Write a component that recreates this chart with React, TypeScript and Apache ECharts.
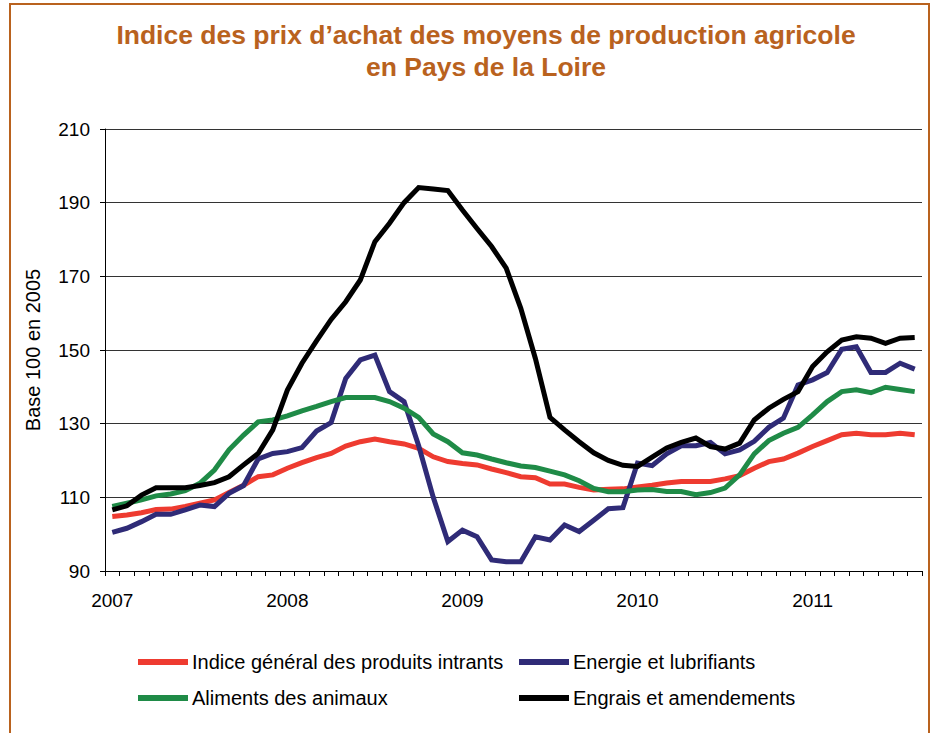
import React, { useEffect, useRef } from "react";
import * as echarts from "echarts";

const months = [
  "2007-01","2007-02","2007-03","2007-04","2007-05","2007-06","2007-07","2007-08","2007-09","2007-10","2007-11","2007-12",
  "2008-01","2008-02","2008-03","2008-04","2008-05","2008-06","2008-07","2008-08","2008-09","2008-10","2008-11","2008-12",
  "2009-01","2009-02","2009-03","2009-04","2009-05","2009-06","2009-07","2009-08","2009-09","2009-10","2009-11","2009-12",
  "2010-01","2010-02","2010-03","2010-04","2010-05","2010-06","2010-07","2010-08","2010-09","2010-10","2010-11","2010-12",
  "2011-01","2011-02","2011-03","2011-04","2011-05","2011-06","2011-07","2011-08",
];

const seriesNames = [
  "Indice général des produits intrants",
  "Energie et lubrifiants",
  "Aliments des animaux",
  "Engrais et amendements",
];

const indiceGeneral = [
  104.8, 105.2, 105.8, 106.7, 106.8, 107.5, 108.4, 109.3, 111.3, 113.3, 115.6, 116.1,
  117.9, 119.4, 120.8, 121.9, 123.9, 125.1, 125.8, 125.1, 124.5, 123.3, 121.0, 119.7,
  119.2, 118.8, 117.7, 116.7, 115.6, 115.3, 113.6, 113.6, 112.7, 112.0, 112.2, 112.3,
  112.8, 113.3, 113.9, 114.3, 114.3, 114.3, 115.0, 115.9, 117.9, 119.7, 120.4, 122.0,
  123.8, 125.4, 127.0, 127.4, 127.0, 127.0, 127.4, 127.0,
];

const energie = [
  100.5, 101.6, 103.4, 105.4, 105.4, 106.6, 107.9, 107.5, 111.1, 113.2, 120.4, 121.9,
  122.4, 123.5, 128.0, 130.3, 142.3, 147.3, 148.6, 138.7, 136.0, 124.0, 110.0, 98.0,
  101.1, 99.3, 93.0, 92.5, 92.5, 99.3, 98.4, 102.5, 100.7, 103.8, 106.9, 107.2,
  119.3, 118.6, 121.8, 124.0, 124.0, 124.9, 121.8, 122.9, 125.2, 129.0, 131.5, 140.5,
  141.9, 143.9, 150.2, 150.9, 143.9, 143.9, 146.4, 144.8,
];

const aliments = [
  107.5, 108.4, 109.3, 110.4, 110.9, 111.8, 113.8, 117.4, 122.9, 126.9, 130.5, 131.0,
  132.1, 133.5, 134.7, 136.0, 137.1, 137.1, 137.1, 136.0, 134.2, 131.7, 127.2, 125.1,
  122.1, 121.5, 120.4, 119.4, 118.5, 118.1, 117.1, 116.1, 114.5, 112.4, 111.5, 111.5,
  112.0, 112.1, 111.6, 111.6, 110.7, 111.3, 112.5, 116.1, 121.8, 125.4, 127.4, 129.0,
  132.4, 136.0, 138.7, 139.2, 138.4, 139.9, 139.3, 138.7,
];

const engrais = [
  106.6, 107.7, 110.6, 112.6, 112.6, 112.6, 113.2, 114.0, 115.6, 118.8, 121.9, 128.3,
  139.1, 146.4, 152.5, 158.3, 163.1, 169.0, 179.4, 184.4, 190.0, 194.1, 193.7, 193.3,
  188.0, 183.0, 178.1, 172.2, 161.3, 147.7, 131.7, 128.3, 125.1, 122.1, 120.0, 118.7,
  118.4, 120.9, 123.4, 124.9, 126.1, 123.8, 123.1, 124.7, 131.0, 134.2, 136.6, 138.7,
  145.5, 149.5, 152.7, 153.6, 153.2, 151.8, 153.2, 153.4,
];

const colors = ["#EE3B30", "#2F2B77", "#1F8B47", "#000000"];
const titleLines = [
  "Indice des prix d’achat des moyens de production agricole",
  "en Pays de la Loire",
];
const yAxisName = "Base 100 en 2005";

const FONT = "'Liberation Sans', Arial, sans-serif";
const BROWN = "#B9621E";

export default function App() {
  const ref = useRef<HTMLDivElement>(null);

  useEffect(() => {
    if (!ref.current) return;
    const chart = echarts.init(ref.current, undefined, { renderer: "svg" });
    const data = [indiceGeneral, energie, aliments, engrais];
    const legendCommon = {
      orient: "vertical",
      top: 647,
      icon: "rect",
      itemWidth: 50,
      itemHeight: 6,
      itemGap: 16,
      selectedMode: false,
      textStyle: { fontFamily: FONT, fontSize: 20, color: "#000", lineHeight: 20, padding: [0, 0, 0, -1] },
    };
    chart.setOption({
      animation: false,
      backgroundColor: "#ffffff",
      textStyle: { fontFamily: FONT },
      graphic: [
        {
          type: "rect",
          shape: { x: 10, y: 4, width: 919, height: 760 },
          style: { fill: "none", stroke: BROWN, lineWidth: 2 },
          silent: true,
        },
        {
          type: "text",
          x: 486,
          y: 35,
          style: {
            text: titleLines[0],
            fill: BROWN,
            font: `bold 26.5px ${FONT}`,
            align: "center",
            verticalAlign: "middle",
          },
        },
        {
          type: "text",
          x: 486,
          y: 67,
          style: {
            text: titleLines[1],
            fill: BROWN,
            font: `bold 26.5px ${FONT}`,
            align: "center",
            verticalAlign: "middle",
          },
        },
      ],
      legend: [
        { ...legendCommon, left: 133, data: [seriesNames[0], seriesNames[2]] },
        { ...legendCommon, left: 514, data: [seriesNames[1], seriesNames[3]] },
      ],
      grid: { left: 105, top: 129, width: 817, height: 442, containLabel: false },
      xAxis: {
        type: "category",
        data: months,
        boundaryGap: true,
        axisLine: { show: true, lineStyle: { color: "#000", width: 1 } },
        axisTick: { show: true, interval: 0, length: 5, inside: false, lineStyle: { color: "#000" } },
        axisLabel: {
          interval: 11,
          margin: 20,
          fontSize: 19,
          color: "#000",
          fontFamily: FONT,
          formatter: (v: string) => v.slice(0, 4),
        },
        splitLine: { show: false },
      },
      yAxis: {
        type: "value",
        min: 90,
        max: 210,
        interval: 20,
        name: yAxisName,
        nameLocation: "middle",
        nameRotate: 90,
        nameGap: 62,
        nameTextStyle: { fontSize: 20, color: "#000", fontFamily: FONT },
        axisLine: { show: true, lineStyle: { color: "#000", width: 1 } },
        axisTick: { show: true, length: 5, lineStyle: { color: "#000" } },
        axisLabel: { margin: 15, fontSize: 19, color: "#000", fontFamily: FONT },
        splitLine: { show: true, lineStyle: { color: "#333", width: 1 } },
      },
      series: seriesNames.map((name, i) => ({
        name,
        type: "line",
        data: data[i],
        showSymbol: false,
        symbol: "none",
        color: colors[i],
        lineStyle: { width: 5, color: colors[i], join: "miter" },
        z: 2 + i,
      })),
    });
    return () => chart.dispose();
  }, []);

  return (
    <div
      ref={ref}
      style={{ position: "absolute", left: 0, top: 0, width: 935, height: 733 }}
    />
  );
}
